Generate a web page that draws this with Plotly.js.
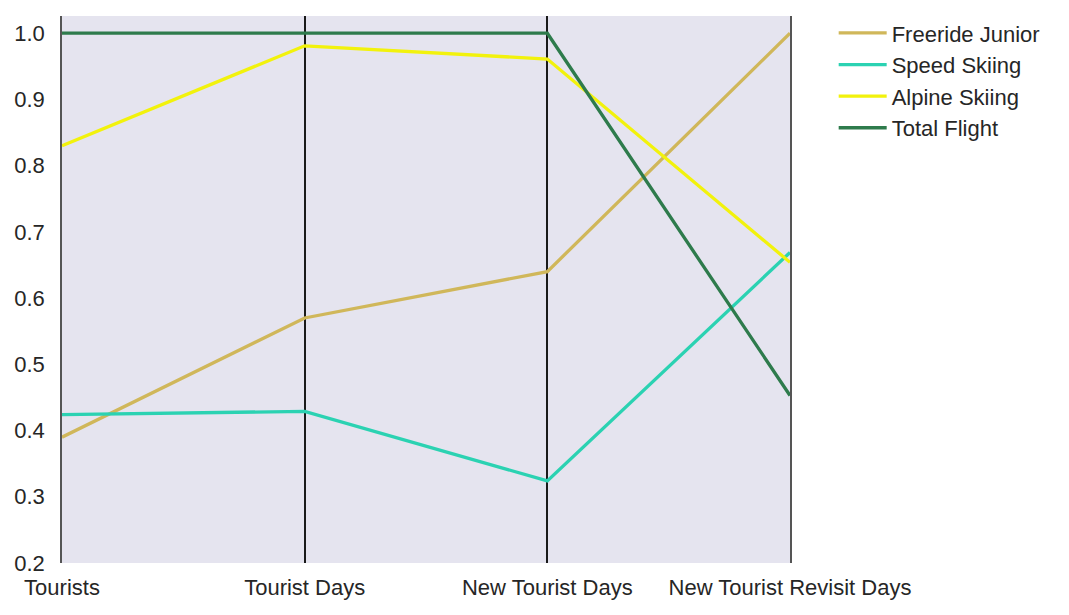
<!DOCTYPE html>
<html>
<head>
<meta charset="utf-8">
<script src="https://cdn.plot.ly/plotly-3.0.1.min.js"></script>
<style>
  html, body { margin: 0; padding: 0; background: #fff; }
  #root { width: 1069px; height: 615px; }
</style>
</head>
<body>
<div id="root"></div>
<script>
// columns of the parallel-coordinates plot
const columns = ['Tourists', 'Tourist Days', 'New Tourist Days', 'New Tourist Revisit Days'];

// normalised values per series
const freerideJunior = [0.39, 0.57, 0.64, 1.0];
const speedSkiing    = [0.424, 0.429, 0.324, 0.669];
const alpineSkiing   = [0.83, 0.981, 0.961, 0.654];
const totalFlight    = [1.0, 1.0, 1.0, 0.453];

const seriesNames  = ['Freeride Junior', 'Speed Skiing', 'Alpine Skiing', 'Total Flight'];
const seriesValues = [freerideJunior, speedSkiing, alpineSkiing, totalFlight];
const seriesColors = ['#d0b75a', '#2bd2b2', '#f2f20c', '#2e7b4c'];

const FONT = 'Liberation Sans, Arial, sans-serif';

var data = [];
for (let i = 0; i < seriesNames.length; i++) {
    data.push({
        x: columns,
        y: seriesValues[i],
        type: 'scatter',
        mode: 'lines',
        name: seriesNames[i],
        line: { color: seriesColors[i], width: 3.3 },
        hoverinfo: 'name+y'
    });
}

var layout = {
    width: 1069,
    height: 615,
    margin: { l: 62, r: 279, t: 16, b: 52 },
    paper_bgcolor: '#ffffff',
    plot_bgcolor: '#e5e4ef',
    font: { family: FONT, size: 22, color: '#262626' },
    showlegend: true,
    legend: {
        x: 1.06, y: 1.007, xanchor: 'left', yanchor: 'top',
        bgcolor: 'rgba(0,0,0,0)',
        font: { family: FONT, size: 22, color: '#262626' },
        itemwidth: 48,
        tracegroupgap: 0
    },
    xaxis: {
        type: 'category',
        range: [0, 3],
        showgrid: true,
        gridcolor: '#1a1a1a',
        gridwidth: 1.5,
        zeroline: false,
        showline: false,
        ticks: '',
        ticklabelstandoff: 9,
        tickfont: { family: FONT, size: 22, color: '#262626' }
    },
    yaxis: {
        range: [0.2, 1.026],
        tick0: 0.2,
        dtick: 0.1,
        tickformat: '.1f',
        showgrid: false,
        zeroline: false,
        showline: true,
        mirror: true,
        linecolor: '#555555',
        linewidth: 1.5,
        ticks: '',
        ticklabelstandoff: 11,
        tickfont: { family: FONT, size: 22, color: '#262626' }
    }
};

Plotly.newPlot('root', data, layout, { displayModeBar: false });
</script>
</body>
</html>
